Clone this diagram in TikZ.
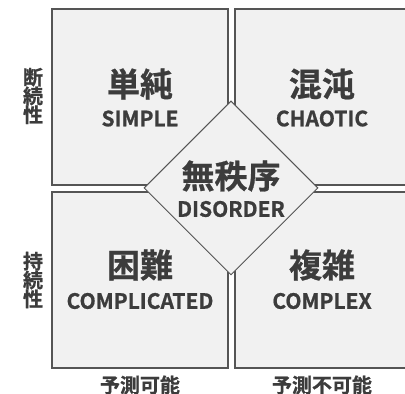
\documentclass[tikz,border=0pt]{standalone}
\usepackage{fontspec}
\setmainfont{Noto Sans CJK JP Bold}[FakeBold=0.8]
\usetikzlibrary{shapes.geometric}
\definecolor{boxfill}{HTML}{F1F1F1}
\definecolor{boxline}{HTML}{555555}
\definecolor{txt}{HTML}{3C3C3C}
\tikzset{
  quad/.style={draw=boxline, fill=boxfill, line width=1.6pt, minimum width=176pt, minimum height=176pt, inner sep=0pt},
  dia/.style={diamond, draw=boxline, fill=boxfill, line width=1pt, minimum width=174pt, minimum height=174pt, inner sep=0pt, aspect=1},
  big/.style={text=txt, font=\fontsize{33}{33}\selectfont, inner sep=0pt},
  sub/.style={text=txt, font=\fontsize{21}{21}\selectfont, inner sep=0pt},
  axis/.style={text=txt, font=\fontsize{20}{20}\selectfont, inner sep=0pt},
}
\begin{document}
\begin{tikzpicture}[x=1pt,y=1pt]
\useasboundingbox (0,0) rectangle (405,394);
\node[quad] (tl) at (140,297) {};
\node[quad] (tr) at (323,297) {};
\node[quad] (bl) at (140,114) {};
\node[quad] (br) at (323,114) {};
\node[dia] (d) at (231,206) {};
\node[big] (t1) at (140,310) {単純};
\node[sub] (s1) at (140,275.5) {SIMPLE};
\node[big] (t2) at (322,310) {混沌};
\node[sub] (s2) at (322,275.5) {CHAOTIC};
\node[big] (t3) at (231,218) {無秩序};
\node[sub] (s3) at (231,185) {DISORDER};
\node[big] (t4) at (140,129) {困難};
\node[sub] (s4) at (140,93) {COMPLICATED};
\node[big] (t5) at (322,129) {複雑};
\node[sub] (s5) at (322,93) {COMPLEX};
\node[axis] (a1) at (33,298) {\shortstack{断\\[-3pt]続\\[-3pt]性}};
\node[axis] (a2) at (33,114) {\shortstack{持\\[-3pt]続\\[-3pt]性}};
\node[axis] (p1) at (140,9) {予測可能};
\node[axis] (p2) at (322,9) {予測不可能};
\end{tikzpicture}
\end{document}
